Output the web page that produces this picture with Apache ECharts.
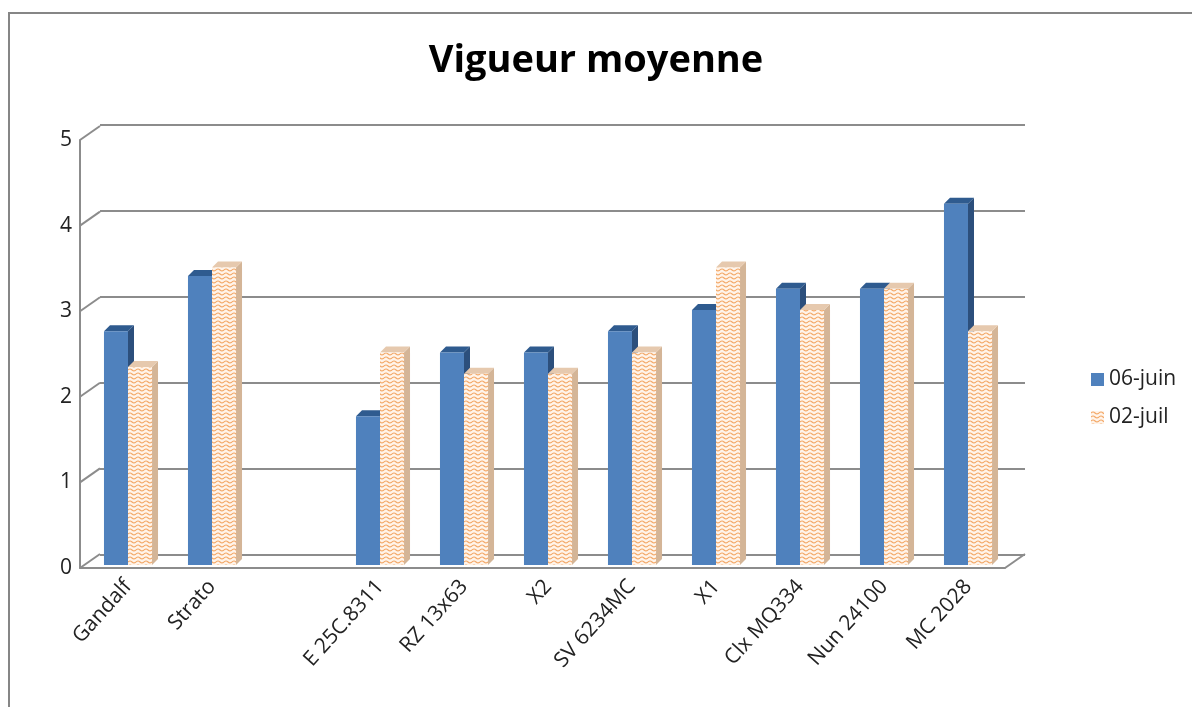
<!DOCTYPE html>
<html>
<head>
<meta charset="utf-8">
<script src="https://cdn.jsdelivr.net/npm/echarts@6/dist/echarts.min.js"></script>
<style>html,body{margin:0;padding:0;background:#fff;}#c{width:1192px;height:707px;}</style>
</head>
<body>
<div id="c"></div>
<script>
var categories = ['Gandalf', 'Strato', '', 'E 25C.8311', 'RZ 13x63', 'X2', 'SV 6234MC', 'X1', 'Clx MQ334', 'Nun 24100', 'MC 2028'];
var juin = [2.75, 3.4, null, 1.75, 2.5, 2.5, 2.75, 3.0, 3.25, 3.25, 4.25];
var juil = [2.33, 3.5, null, 2.5, 2.25, 2.25, 2.5, 3.5, 3.0, 3.25, 2.75];
var seriesNames = ['06-juin', '02-juil'];
var yTicks = [0, 1, 2, 3, 4, 5];

function wavePattern() {
  var c = document.createElement('canvas');
  c.width = 8; c.height = 4;
  var g = c.getContext('2d');
  g.fillStyle = '#FFF4EA';
  g.fillRect(0, 0, 8, 4);
  g.strokeStyle = '#F3A868';
  g.lineWidth = 1.1;
  g.beginPath();
  g.moveTo(0, 2);
  g.quadraticCurveTo(2, 0, 4, 2);
  g.quadraticCurveTo(6, 4, 8, 2);
  g.stroke();
  return c;
}
var pat = { image: wavePattern(), repeat: 'repeat' };

function toData(arr) {
  var out = [];
  arr.forEach(function (v, i) { if (v !== null) out.push([i, v]); });
  return out;
}

function makeRender(idx, front, top, side) {
  return function (params, api) {
    var cat = api.value(0), v = api.value(1);
    var base = api.coord([cat, 0]);
    var tp = api.coord([cat, v]);
    var bw = api.size([1, 0])[0];
    var w = bw * 0.286;
    var x0 = idx === 0 ? base[0] - w : base[0];
    var d = 6;
    return {
      type: 'group',
      children: [
        { type: 'polygon', shape: { points: [[x0 + w, tp[1]], [x0 + w + d, tp[1] - d], [x0 + w + d, base[1] - d], [x0 + w, base[1]]] }, style: { fill: side } },
        { type: 'polygon', shape: { points: [[x0, tp[1]], [x0 + d, tp[1] - d], [x0 + w + d, tp[1] - d], [x0 + w, tp[1]]] }, style: { fill: top } },
        { type: 'rect', shape: { x: x0, y: tp[1], width: w, height: base[1] - tp[1] }, style: { fill: front } }
      ]
    };
  };
}

var gridColor = '#8C8C8C';
var chart = echarts.init(document.getElementById('c'));
chart.setOption({
  animation: false,
  backgroundColor: '#fff',
  title: {
    text: 'Vigueur moyenne', left: 'center', top: 37,
    textStyle: { fontFamily: 'Open Sans', fontWeight: 'bold', fontSize: 38, color: '#000' }
  },
  legend: {
    orient: 'vertical', left: 1086, top: 364, itemGap: 17, itemWidth: 13, itemHeight: 13,
    icon: 'rect',
    textStyle: { fontFamily: 'Open Sans', fontSize: 21, color: '#222' },
    data: seriesNames
  },
  graphic: [{
    type: 'rect', shape: { x: 9, y: 13, width: 1200, height: 720 },
    style: { fill: 'none', stroke: '#868686', lineWidth: 2 }, silent: true
  }],
  grid: [
    { left: 86, right: 182, top: 140, bottom: 142 },
    { left: 100, right: 167, top: 125, bottom: 152 },
    { left: 80, right: 187, top: 140, bottom: 139 }
  ],
  xAxis: [
    { type: 'category', gridIndex: 0, data: categories, axisLine: { show: false }, axisTick: { show: false },
      axisLabel: { rotate: 48, interval: 0, margin: 18, fontFamily: 'Open Sans', fontSize: 21, color: '#222' } },
    { type: 'value', gridIndex: 1, min: 0, max: 1, show: false },
    { type: 'value', gridIndex: 2, min: 0, max: 1, axisLine: { show: true, lineStyle: { color: gridColor, width: 2 } },
      axisTick: { show: false }, axisLabel: { show: false }, splitLine: { show: false } }
  ],
  yAxis: [
    { type: 'value', gridIndex: 0, min: 0, max: 5, interval: 1, show: false },
    { type: 'value', gridIndex: 1, min: 0, max: 5, interval: 1, axisLine: { show: false }, axisTick: { show: false },
      axisLabel: { show: false }, splitLine: { show: true, lineStyle: { color: gridColor, width: 2 } } },
    { type: 'value', gridIndex: 2, min: 0, max: 5, interval: 1,
      axisLine: { show: true, lineStyle: { color: gridColor, width: 2 } }, axisTick: { show: false },
      splitLine: { show: false },
      axisLabel: { margin: 8, fontFamily: 'Open Sans', fontSize: 21, color: '#222' } }
  ],
  series: [
    { type: 'custom', name: 'frame', xAxisIndex: 2, yAxisIndex: 2, silent: true, z: 1,
      data: yTicks.map(function (t) { return [0, t]; }).concat([[1, 0]]),
      renderItem: function (params, api) {
        var p = api.coord([api.value(0), api.value(1)]);
        return { type: 'line', shape: { x1: p[0], y1: p[1], x2: p[0] + 20, y2: p[1] - 14 },
          style: { stroke: gridColor, lineWidth: 2 } };
      } },
    { type: 'custom', name: seriesNames[0], xAxisIndex: 0, yAxisIndex: 0, z: 3,
      itemStyle: { color: '#4F81BD' },
      data: toData(juin), renderItem: makeRender(0, '#4F81BD', '#2F5B8F', '#2C4F7C') },
    { type: 'custom', name: seriesNames[1], xAxisIndex: 0, yAxisIndex: 0, z: 4,
      itemStyle: { color: pat },
      data: toData(juil), renderItem: makeRender(1, pat, '#E6C9AE', '#D4B597') }
  ]
});
</script>
</body>
</html>
